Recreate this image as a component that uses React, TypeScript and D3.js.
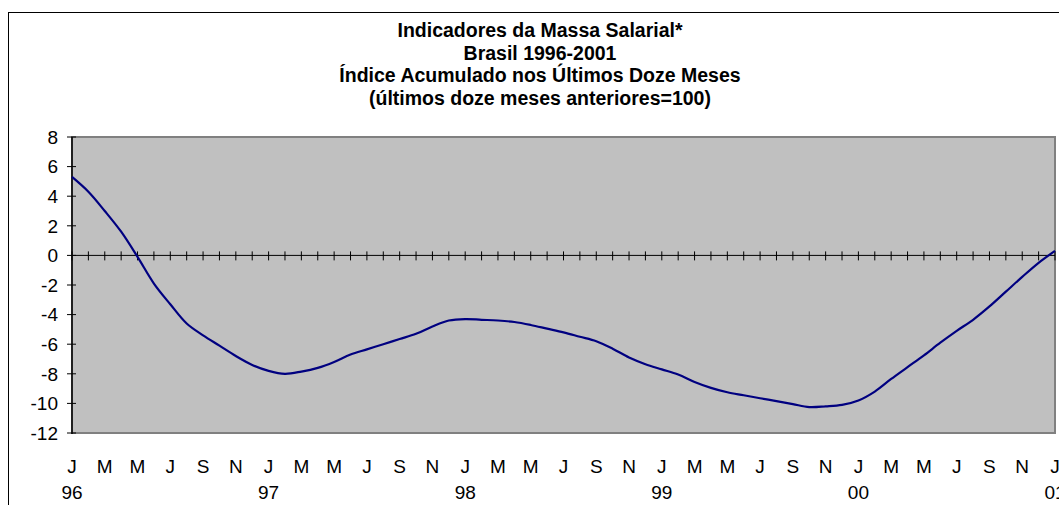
import React from 'react'
import * as d3 from 'd3'

const titleLines = [
  'Indicadores da Massa Salarial*',
  'Brasil 1996-2001',
  'Índice Acumulado nos Últimos Doze Meses',
  '(últimos doze meses anteriores=100)',
]

const monthInitials = ['J', 'F', 'M', 'A', 'M', 'J', 'J', 'A', 'S', 'O', 'N', 'D']
const yearLabels = ['96', '97', '98', '99', '00', '01']

// monthly values, Jan/96 .. Jan/01
const values = [
  5.3, 4.3, 3.0, 1.6, -0.1, -1.9, -3.3, -4.6, -5.4, -6.1, -6.8, -7.4,
  -7.8, -8.0, -7.85, -7.6, -7.2, -6.7, -6.35, -6.0, -5.65, -5.3, -4.8, -4.4,
  -4.3, -4.35, -4.4, -4.5, -4.7, -4.95, -5.2, -5.5, -5.8, -6.3, -6.9, -7.35,
  -7.7, -8.05, -8.55, -8.95, -9.25, -9.45, -9.65, -9.85, -10.05, -10.25, -10.2, -10.1,
  -9.8, -9.2, -8.35, -7.55, -6.75, -5.9, -5.1, -4.35, -3.45, -2.45, -1.45, -0.5,
  0.3,
]

const yTicks = [8, 6, 4, 2, 0, -2, -4, -6, -8, -10, -12]

const font = "'Liberation Sans', Arial, sans-serif"

const App = () => {
  const plot = { left: 72, right: 1055, top: 137, bottom: 433 }

  const x = d3
    .scaleLinear()
    .domain([0, values.length - 1])
    .range([plot.left, plot.right])

  const y = d3.scaleLinear().domain([-12, 8]).range([plot.bottom, plot.top])

  const line = d3
    .line<number>()
    .x((_, i) => x(i))
    .y((d) => y(d))
    .curve(d3.curveCatmullRom.alpha(0.5))

  const months = d3.range(values.length)

  return (
    <svg
      width={1059}
      height={505}
      style={{ position: 'absolute', left: 0, top: 0 }}
    >
      <rect x={0} y={0} width={1059} height={505} fill='#fff' />
      <rect
        x={8.5}
        y={12.5}
        width={1100}
        height={600}
        fill='none'
        stroke='#000'
        strokeWidth={1}
      />

      {titleLines.map((t, i) => (
        <text
          key={t}
          x={540}
          y={37 + i * 22.5}
          textAnchor='middle'
          fontFamily={font}
          fontWeight='bold'
          fontSize={19.5}
        >
          {t}
        </text>
      ))}

      <rect
        x={plot.left}
        y={plot.top}
        width={plot.right - plot.left}
        height={plot.bottom - plot.top}
        fill='#c0c0c0'
        stroke='#808080'
        strokeWidth={2}
      />
      <line
        x1={plot.left}
        x2={plot.left}
        y1={plot.top}
        y2={plot.bottom + 1}
        stroke='#000'
        strokeWidth={1.5}
      />

      {yTicks.map((t) => (
        <g key={t}>
          <line
            x1={plot.left - 5}
            x2={plot.left + 4}
            y1={y(t)}
            y2={y(t)}
            stroke='#000'
          />
          <text
            x={58}
            y={y(t)}
            dy='0.36em'
            textAnchor='end'
            fontFamily={font}
            fontSize={19}
          >
            {t}
          </text>
        </g>
      ))}

      <line
        x1={plot.left}
        x2={plot.right}
        y1={y(0)}
        y2={y(0)}
        stroke='#000'
        strokeWidth={1}
      />
      {months.map((i) => (
        <line
          key={i}
          x1={x(i)}
          x2={x(i)}
          y1={y(0) - 4}
          y2={y(0) + 5}
          stroke='#000'
        />
      ))}

      <path d={line(values) || ''} fill='none' stroke='#000080' strokeWidth={2.2} />

      {months
        .filter((i) => i % 2 === 0)
        .map((i) => (
          <text
            key={i}
            x={x(i)}
            y={473}
            textAnchor='middle'
            fontFamily={font}
            fontSize={19}
          >
            {monthInitials[i % 12]}
          </text>
        ))}
      {months
        .filter((i) => i % 12 === 0)
        .map((i) => (
          <text
            key={i}
            x={x(i)}
            y={499}
            textAnchor='middle'
            fontFamily={font}
            fontSize={19}
          >
            {yearLabels[i / 12]}
          </text>
        ))}
    </svg>
  )
}

export default App
